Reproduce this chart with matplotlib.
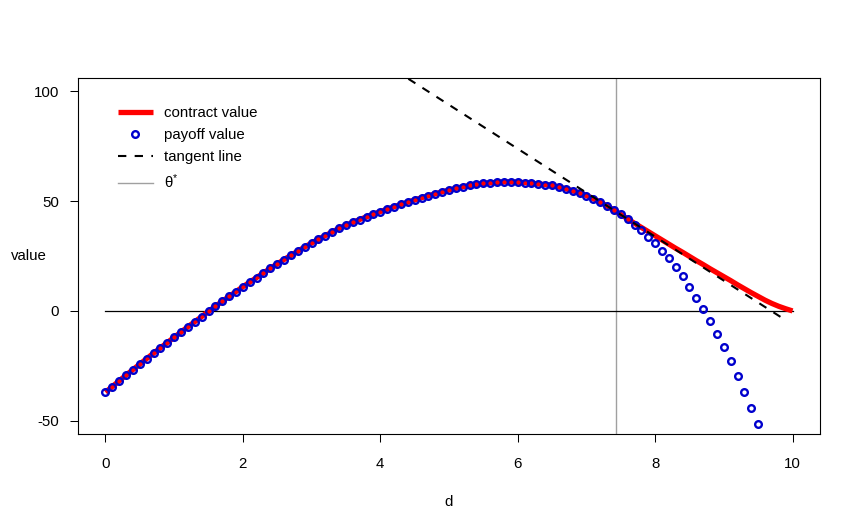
# contract value vs payoff value, with tangent line at theta*

import matplotlib.pyplot as plt
import numpy as np

plt.rcParams['font.family'] = ['Liberation Sans', 'DejaVu Sans']
plt.rcParams['mathtext.default'] = 'regular'
plt.rcParams['axes.unicode_minus'] = False

# data
d = np.round(np.arange(0, 10.01, 0.1), 1)

payoff = [-37.0, -34.4, -31.8, -29.2, -26.7, -24.2, -21.7, -19.2, -16.8, -14.4,
          -12.0, -9.6, -7.2, -4.9, -2.6, -0.2, 2.1, 4.4, 6.6, 8.8,
          11.0, 13.1, 15.2, 17.3, 19.4, 21.4, 23.4, 25.3, 27.2, 29.1,
          30.9, 32.6, 34.3, 35.9, 37.6, 39.0, 40.3, 41.6, 42.8, 44.0,
          45.2, 46.3, 47.4, 48.5, 49.5, 50.5, 51.5, 52.4, 53.3, 54.2,
          55.0, 55.8, 56.5, 57.1, 57.6, 58.0, 58.3, 58.5, 58.7, 58.7,
          58.6, 58.4, 58.1, 57.8, 57.5, 57.1, 56.4, 55.6, 54.7, 53.7,
          52.5, 51.1, 49.5, 47.8, 45.9, 43.9, 41.7, 39.3, 36.7, 33.8,
          30.8, 27.5, 24.0, 20.2, 15.9, 11.1, 6.0, 0.8, -4.6, -10.3,
          -16.3, -22.7, -29.5, -36.7, -44.3, -51.5]

# contract value after theta* (d = 7.5 ... 10)
contract_tail = [43.9, 41.9, 39.9, 38.0, 36.1, 34.2, 32.3, 30.4, 28.5, 26.7,
                 24.8, 22.9, 21.1, 19.2, 17.4, 15.6, 13.8, 11.9, 10.1, 8.3,
                 6.6, 4.9, 3.4, 2.1, 1.0, 0.0]
contract = payoff[:75] + contract_tail

theta_star = 7.43
tangent_d = [4.0, 9.85]
tangent_v = [113.8, -3.2]
zero_d = [0, 10]
zero_v = [0, 0]

fig = plt.figure(figsize=(8.57, 5.32), dpi=100)
ax = fig.add_axes([78/857, 1-434/532, 742/857, 356/532])

ax.plot(d, contract, color='#FF0000', lw=3.8, solid_capstyle='butt', zorder=2,
        label='contract value')
ax.plot(d[:len(payoff)], payoff, ls='none', marker='o', ms=4.8, mfc='none',
        mec='#0000CD', mew=1.7, zorder=3, label='payoff value')
ax.plot(tangent_d, tangent_v, color='black', lw=1.5, ls=(0, (4, 4)), zorder=4,
        label='tangent line')
ax.axvline(theta_star, color='#A0A0A0', lw=1, zorder=1, label=r'$\theta^{*}$')
ax.plot(zero_d, zero_v, color='black', lw=0.9, zorder=1)

ax.set_xlim(-0.4, 10.4)
ax.set_ylim(-56, 106)
ax.set_xticks([0, 2, 4, 6, 8, 10])
ax.set_yticks([-50, 0, 50, 100])
ax.tick_params(direction='out', length=5.5, width=0.75, labelsize=10.8, color='black')
ax.tick_params(axis='x', pad=11)
ax.tick_params(axis='y', pad=8)
for s in ax.spines.values():
    s.set_linewidth(0.8)

ax.set_xlabel('d', fontsize=10.8, va='center')
ax.xaxis.set_label_coords(0.5, -0.191)
ax.set_ylabel('value', fontsize=10.8, rotation=0, ha='center', va='center')
ax.yaxis.set_label_coords(-0.066, 0.5)

ax.legend(loc='upper left', bbox_to_anchor=(118/857, 1-106/532),
          bbox_transform=fig.transFigure, frameon=False, fontsize=10.8,
          numpoints=1, handlelength=2.3, handletextpad=0.75, labelspacing=0.55,
          borderpad=0, borderaxespad=0)

plt.savefig('out.png', dpi=100)
